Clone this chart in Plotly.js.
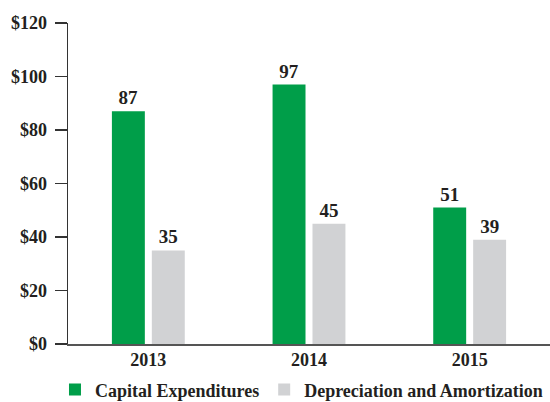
<!DOCTYPE html>
<html>
<head>
<meta charset="utf-8">
<script src="https://cdn.plot.ly/plotly-3.0.1.min.js"></script>
<style>html,body{margin:0;padding:0;background:#fff;}#chart{width:550px;height:402px;}</style>
</head>
<body>
<div id="chart"></div>
<script>
const years = ["2013", "2014", "2015"];
const capex = [87, 97, 51];
const depAmort = [35, 45, 39];
const seriesNames = ["Capital Expenditures", "Depreciation and Amortization"];
const yTickVals = [0, 20, 40, 60, 80, 100, 120];
const yTickText = ["$0", "$20", "$40", "$60", "$80", "$100", "$120"];

const fontFam = "Liberation Serif";
const txtColor = "#231f20";

const traces = [
  {type: "bar", name: seriesNames[0], x: years, y: capex,
   marker: {color: "#009e49"}, text: capex.map(String), textposition: "outside",
   textfont: {family: fontFam, size: 19, color: txtColor}, cliponaxis: false, hoverinfo: "none"},
  {type: "bar", name: seriesNames[1], x: years, y: depAmort,
   marker: {color: "#d1d2d4"}, text: depAmort.map(String), textposition: "outside",
   textfont: {family: fontFam, size: 19, color: txtColor}, cliponaxis: false, hoverinfo: "none"}
];

const layout = {
  width: 550, height: 402,
  margin: {l: 68, r: 0, t: 23, b: 58, autoexpand: false},
  paper_bgcolor: "#fff", plot_bgcolor: "#fff",
  font: {family: fontFam, size: 18, color: txtColor, weight: "bold"},
  barmode: "group", bargap: 0.503, bargroupgap: 0.175,
  showlegend: true,
  legend: {orientation: "h", x: -0.027, xanchor: "left", y: -0.085, yanchor: "top",
           font: {family: fontFam, size: 18, color: txtColor, weight: "bold"},
           itemwidth: 30, traceorder: "normal"},
  xaxis: {type: "category", showline: true, linecolor: "#555", linewidth: 2,
          ticks: "", showgrid: false, zeroline: false, automargin: false,
          ticklabelstandoff: -2,
          tickfont: {family: fontFam, size: 18, color: txtColor, weight: "bold"}},
  yaxis: {range: [0, 120], tickvals: yTickVals, ticktext: yTickText, automargin: false,
          showline: true, linecolor: "#333", linewidth: 1.5,
          ticks: "outside", ticklen: 12, tickwidth: 1.5, tickcolor: "#333",
          showgrid: false, zeroline: false, ticklabelstandoff: 4,
          tickfont: {family: fontFam, size: 18, color: txtColor, weight: "bold"}}
};

Plotly.newPlot("chart", traces, layout, {displayModeBar: false, staticPlot: true});
</script>
</body>
</html>
